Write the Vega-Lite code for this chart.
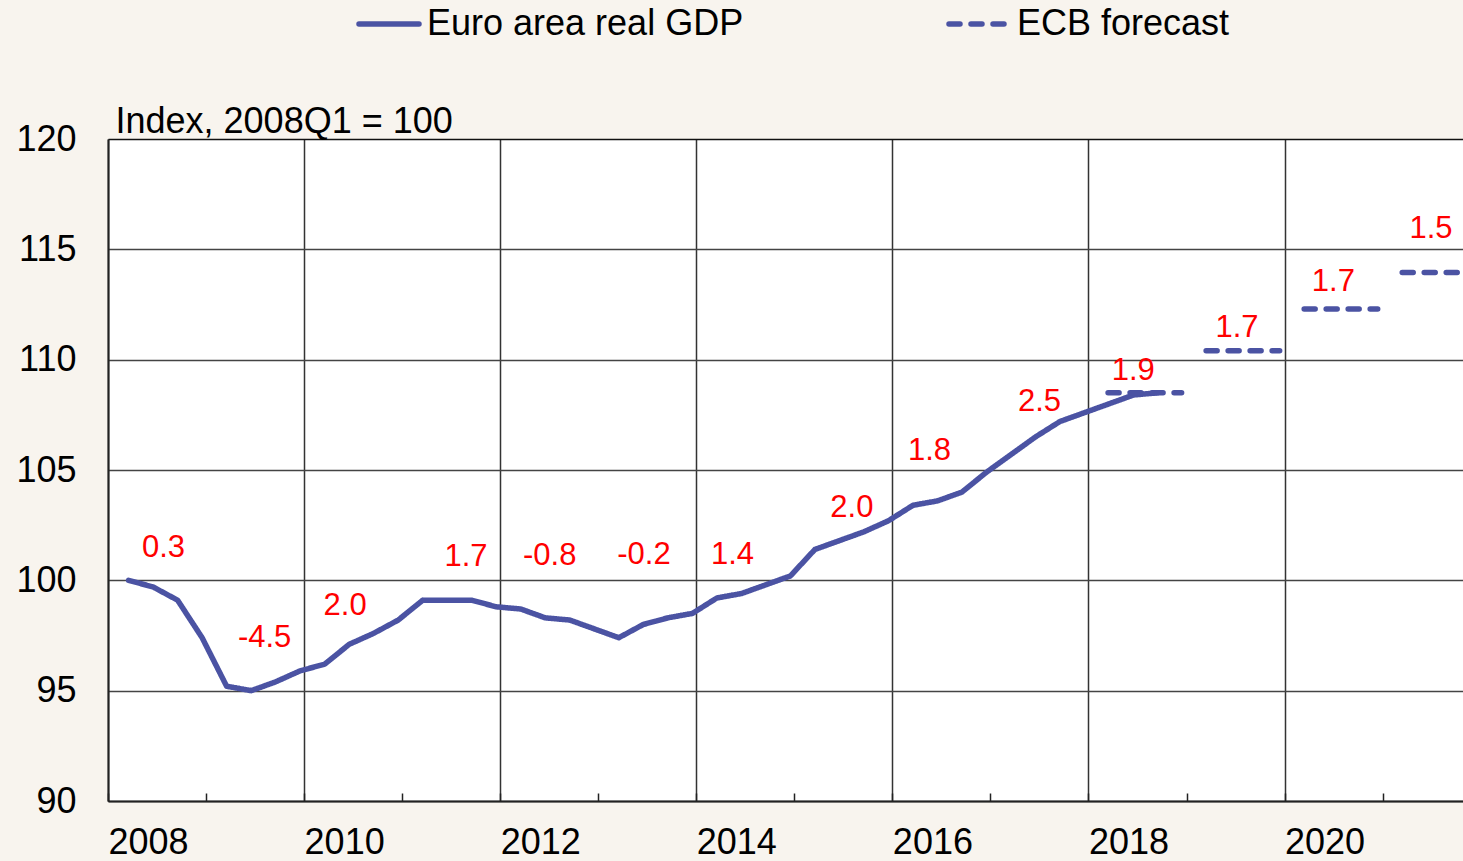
{
  "$schema": "https://vega.github.io/schema/vega-lite/v6.json",
  "width": 1355,
  "height": 662,
  "autosize": {"type": "none"},
  "padding": {"left": 108, "top": 139, "right": 0, "bottom": 60},
  "background": "#f8f4ee",
  "config": {
    "view": {"fill": "white", "stroke": null},
    "font": "Liberation Sans"
  },
  "datasets": {
    "gdp": [
      {"quarter": "2008Q1", "t": 2008.21, "value": 100.0, "series": "Euro area real GDP"},
      {"quarter": "2008Q2", "t": 2008.46, "value": 99.7, "series": "Euro area real GDP"},
      {"quarter": "2008Q3", "t": 2008.71, "value": 99.1, "series": "Euro area real GDP"},
      {"quarter": "2008Q4", "t": 2008.96, "value": 97.4, "series": "Euro area real GDP"},
      {"quarter": "2009Q1", "t": 2009.21, "value": 95.2, "series": "Euro area real GDP"},
      {"quarter": "2009Q2", "t": 2009.46, "value": 95.0, "series": "Euro area real GDP"},
      {"quarter": "2009Q3", "t": 2009.71, "value": 95.4, "series": "Euro area real GDP"},
      {"quarter": "2009Q4", "t": 2009.96, "value": 95.9, "series": "Euro area real GDP"},
      {"quarter": "2010Q1", "t": 2010.21, "value": 96.2, "series": "Euro area real GDP"},
      {"quarter": "2010Q2", "t": 2010.46, "value": 97.1, "series": "Euro area real GDP"},
      {"quarter": "2010Q3", "t": 2010.71, "value": 97.6, "series": "Euro area real GDP"},
      {"quarter": "2010Q4", "t": 2010.96, "value": 98.2, "series": "Euro area real GDP"},
      {"quarter": "2011Q1", "t": 2011.21, "value": 99.1, "series": "Euro area real GDP"},
      {"quarter": "2011Q2", "t": 2011.46, "value": 99.1, "series": "Euro area real GDP"},
      {"quarter": "2011Q3", "t": 2011.71, "value": 99.1, "series": "Euro area real GDP"},
      {"quarter": "2011Q4", "t": 2011.96, "value": 98.8, "series": "Euro area real GDP"},
      {"quarter": "2012Q1", "t": 2012.21, "value": 98.7, "series": "Euro area real GDP"},
      {"quarter": "2012Q2", "t": 2012.46, "value": 98.3, "series": "Euro area real GDP"},
      {"quarter": "2012Q3", "t": 2012.71, "value": 98.2, "series": "Euro area real GDP"},
      {"quarter": "2012Q4", "t": 2012.96, "value": 97.8, "series": "Euro area real GDP"},
      {"quarter": "2013Q1", "t": 2013.21, "value": 97.4, "series": "Euro area real GDP"},
      {"quarter": "2013Q2", "t": 2013.46, "value": 98.0, "series": "Euro area real GDP"},
      {"quarter": "2013Q3", "t": 2013.71, "value": 98.3, "series": "Euro area real GDP"},
      {"quarter": "2013Q4", "t": 2013.96, "value": 98.5, "series": "Euro area real GDP"},
      {"quarter": "2014Q1", "t": 2014.21, "value": 99.2, "series": "Euro area real GDP"},
      {"quarter": "2014Q2", "t": 2014.46, "value": 99.4, "series": "Euro area real GDP"},
      {"quarter": "2014Q3", "t": 2014.71, "value": 99.8, "series": "Euro area real GDP"},
      {"quarter": "2014Q4", "t": 2014.96, "value": 100.2, "series": "Euro area real GDP"},
      {"quarter": "2015Q1", "t": 2015.21, "value": 101.4, "series": "Euro area real GDP"},
      {"quarter": "2015Q2", "t": 2015.46, "value": 101.8, "series": "Euro area real GDP"},
      {"quarter": "2015Q3", "t": 2015.71, "value": 102.2, "series": "Euro area real GDP"},
      {"quarter": "2015Q4", "t": 2015.96, "value": 102.7, "series": "Euro area real GDP"},
      {"quarter": "2016Q1", "t": 2016.21, "value": 103.4, "series": "Euro area real GDP"},
      {"quarter": "2016Q2", "t": 2016.46, "value": 103.6, "series": "Euro area real GDP"},
      {"quarter": "2016Q3", "t": 2016.71, "value": 104.0, "series": "Euro area real GDP"},
      {"quarter": "2016Q4", "t": 2016.96, "value": 104.9, "series": "Euro area real GDP"},
      {"quarter": "2017Q1", "t": 2017.21, "value": 105.7, "series": "Euro area real GDP"},
      {"quarter": "2017Q2", "t": 2017.46, "value": 106.5, "series": "Euro area real GDP"},
      {"quarter": "2017Q3", "t": 2017.71, "value": 107.2, "series": "Euro area real GDP"},
      {"quarter": "2017Q4", "t": 2017.96, "value": 107.6, "series": "Euro area real GDP"},
      {"quarter": "2018Q1", "t": 2018.21, "value": 108.0, "series": "Euro area real GDP"},
      {"quarter": "2018Q2", "t": 2018.46, "value": 108.4, "series": "Euro area real GDP"},
      {"quarter": "2018Q3", "t": 2018.71, "value": 108.5, "series": "Euro area real GDP"}
    ],
    "forecast": [
      {"year": 2018, "t": 2018.2, "value": 108.5, "series": "ECB forecast"},
      {"year": 2018, "t": 2018.95, "value": 108.5, "series": "ECB forecast"},
      {"year": 2019, "t": 2019.2, "value": 110.4, "series": "ECB forecast"},
      {"year": 2019, "t": 2019.95, "value": 110.4, "series": "ECB forecast"},
      {"year": 2020, "t": 2020.2, "value": 112.3, "series": "ECB forecast"},
      {"year": 2020, "t": 2020.95, "value": 112.3, "series": "ECB forecast"},
      {"year": 2021, "t": 2021.2, "value": 113.95, "series": "ECB forecast"},
      {"year": 2021, "t": 2021.95, "value": 113.95, "series": "ECB forecast"}
    ],
    "labels": [
      {"t": 2008.566, "value": 101.47, "label": "0.3"},
      {"t": 2009.597, "value": 97.39, "label": "-4.5"},
      {"t": 2010.418, "value": 98.82, "label": "2.0"},
      {"t": 2011.651, "value": 101.07, "label": "1.7"},
      {"t": 2012.505, "value": 101.09, "label": "-0.8"},
      {"t": 2013.466, "value": 101.13, "label": "-0.2"},
      {"t": 2014.37, "value": 101.13, "label": "1.4"},
      {"t": 2015.587, "value": 103.28, "label": "2.0"},
      {"t": 2016.378, "value": 105.86, "label": "1.8"},
      {"t": 2017.5, "value": 108.1, "label": "2.5"},
      {"t": 2018.457, "value": 109.49, "label": "1.9"},
      {"t": 2019.515, "value": 111.43, "label": "1.7"},
      {"t": 2020.498, "value": 113.53, "label": "1.7"},
      {"t": 2021.493, "value": 115.91, "label": "1.5"}
    ]
  },
  "encoding": {
    "x": {
      "field": "t",
      "type": "quantitative",
      "scale": {"domain": [2008, 2021.82], "nice": false, "zero": false},
      "axis": {
        "title": null,
        "values": [2008, 2009, 2010, 2011, 2012, 2013, 2014, 2015, 2016, 2017, 2018, 2019, 2020, 2021],
        "format": "d",
        "labelExpr": "datum.value % 2 === 0 ? datum.label : ''",
        "labelAlign": "left",
        "labelBaseline": "top",
        "labelFlush": false,
        "labelOverlap": false,
        "labelFontSize": 36,
        "labelColor": "black",
        "labelPadding": 32,
        "tickSize": -8,
        "tickColor": "#222222",
        "tickWidth": 1.5,
        "domainColor": "#222222",
        "domainWidth": 2,
        "grid": true,
        "gridColor": "#333333",
        "gridWidth": 1.5,
        "gridOpacity": {"condition": {"test": "datum.value % 2 === 0", "value": 1}, "value": 0}
      }
    },
    "y": {
      "field": "value",
      "type": "quantitative",
      "scale": {"domain": [90, 120], "nice": false, "zero": false},
      "axis": {
        "title": "Index, 2008Q1 = 100",
        "titleAngle": 0,
        "titleAlign": "left",
        "titleBaseline": "alphabetic",
        "titleX": 7,
        "titleY": -7,
        "titleFontSize": 36,
        "titleFontWeight": "normal",
        "titleColor": "black",
        "values": [90, 95, 100, 105, 110, 115, 120],
        "labelFontSize": 36,
        "labelColor": "black",
        "labelPadding": 32,
        "ticks": false,
        "domainColor": "#222222",
        "domainWidth": 2,
        "grid": true,
        "gridColor": {"condition": {"test": "datum.value === 120", "value": "#111111"}, "value": "#444444"},
        "gridWidth": 1.5
      }
    }
  },
  "layer": [
    {
      "data": {"name": "gdp"},
      "mark": {"type": "line", "strokeWidth": 5.5, "strokeJoin": "round", "strokeCap": "round"},
      "encoding": {
        "color": {
          "field": "series",
          "type": "nominal",
          "scale": {"domain": ["Euro area real GDP", "ECB forecast"], "range": ["#4b53a3", "#4b53a3"]},
          "legend": {
            "title": null,
            "orient": "none",
            "legendX": 248,
            "legendY": -148,
            "direction": "horizontal",
            "padding": 0,
            "labelFontSize": 36,
            "labelColor": "black",
            "labelLimit": 600,
            "labelOffset": 5,
            "columnPadding": 194,
            "symbolType": "stroke",
            "symbolSize": 3600,
            "symbolStrokeWidth": 5.5,
            "encode": {"symbols": {"update": {"strokeCap": {"value": "round"}}}}
          }
        },
        "strokeDash": {
          "field": "series",
          "type": "nominal",
          "scale": {"domain": ["Euro area real GDP", "ECB forecast"], "range": [[1, 0], [11, 11]]},
          "legend": null
        }
      }
    },
    {
      "data": {"name": "forecast"},
      "mark": {"type": "line", "strokeWidth": 5.5, "strokeCap": "round", "clip": true},
      "encoding": {
        "detail": {"field": "year", "type": "nominal"},
        "color": {"field": "series", "type": "nominal"},
        "strokeDash": {"field": "series", "type": "nominal"}
      }
    },
    {
      "data": {"name": "labels"},
      "mark": {"type": "text", "color": "#ff0000", "fontSize": 31, "align": "center", "baseline": "middle"},
      "encoding": {
        "text": {"field": "label", "type": "nominal"}
      }
    }
  ]
}
